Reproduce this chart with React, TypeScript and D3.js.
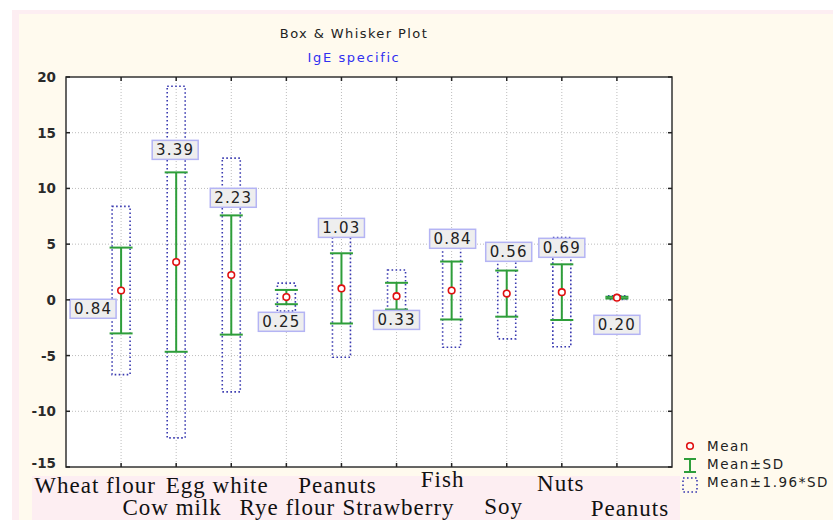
import React from "react";
import * as d3 from "d3";

const categories = ["Wheat flour", "Cow milk", "Egg white", "Rye flour", "Peanuts", "Strawberry", "Fish", "Soy", "Nuts", "Peanuts"];
const means = [0.84, 3.39, 2.23, 0.25, 1.03, 0.33, 0.84, 0.56, 0.69, 0.2];
const sds = [3.85, 8.05, 5.35, 0.64, 3.15, 1.2, 2.6, 2.07, 2.5, 0.08];
const meanLabels = ["0.84", "3.39", "2.23", "0.25", "1.03", "0.33", "0.84", "0.56", "0.69", "0.20"];
const labelValues = [-0.8, 13.46, 9.16, -1.97, 6.46, -1.8, 5.48, 4.31, 4.67, -2.24];
const yTicks = [20, 15, 10, 5, 0, -5, -10, -15];

// layout tweaks (pixels)
const labelDx = [-28, -1, 2, -5, 0, 0, 1, 2, 0, 0];
const catDx = [-26, -4, -14, 1, -4, 2, -9, -3, -1, 13];
const catY = [493, 515, 493, 515, 493, 515, 487, 514, 491, 516];

const W = 833, H = 520;
const X0 = 66, X1 = 672, Y0 = 77, Y1 = 467;

export default function App() {
  const x = d3.scalePoint<number>().domain(d3.range(categories.length)).range([X0, X1]).padding(1);
  const y = d3.scaleLinear().domain([-15, 20]).range([Y1, Y0]);
  const green = "#2e9e3a";
  const navy = "#3a3ab0";
  const font = "'DejaVu Sans', Verdana, sans-serif";
  return (
    <svg width={W} height={H} style={{ position: "absolute", left: 0, top: 0 }}>
      <rect x={0} y={0} width={W} height={H} fill="#ffffff" />
      <rect x={12} y={10} width={W - 12} height={H - 10} fill="#fdeef2" />
      <rect x={19} y={14} width={W - 19} height={H - 14} fill="#fffaee" />
      <rect x={32} y={476} width={648} height={44} fill="#fdeef2" />
      {/* title */}
      <text x={354} y={38} textAnchor="middle" fontFamily={font} fontSize={13} fill="#222" letterSpacing={1.4}>Box &amp; Whisker Plot</text>
      <text x={354} y={62} textAnchor="middle" fontFamily={font} fontSize={13} fill="#3030f0" letterSpacing={1.6}>IgE specific</text>
      {/* plot area */}
      <rect x={X0} y={Y0} width={X1 - X0} height={Y1 - Y0} fill="#ffffff" />
      {yTicks.filter(t => t > -15 && t < 20).map(t => (
        <line key={"gy" + t} x1={X0} x2={X1} y1={y(t)} y2={y(t)} stroke="#bdbdbd" strokeWidth={1} strokeDasharray="1,2" />
      ))}
      {categories.map((c, i) => (
        <line key={"gx" + i} x1={x(i)} x2={x(i)} y1={Y0} y2={Y1} stroke="#bdbdbd" strokeWidth={1} strokeDasharray="1,2" />
      ))}
      {/* boxes */}
      {categories.map((c, i) => {
        const cx = x(i)!;
        const m = means[i], s = sds[i];
        const bw = 9, cw = 11.5;
        return (
          <g key={"b" + i}>
            <rect x={cx - bw} y={y(m + 1.96 * s)} width={2 * bw} height={y(m - 1.96 * s) - y(m + 1.96 * s)} fill="none" stroke={navy} strokeWidth={1.6} strokeDasharray="1.6,2.4" />
            <line x1={cx} x2={cx} y1={y(m + s)} y2={y(m - s)} stroke={green} strokeWidth={2} />
            <line x1={cx - cw} x2={cx + cw} y1={y(m + s)} y2={y(m + s)} stroke={green} strokeWidth={2} />
            <line x1={cx - cw} x2={cx + cw} y1={y(m - s)} y2={y(m - s)} stroke={green} strokeWidth={2} />
            <circle cx={cx} cy={y(m)} r={3.3} fill="#ffffff" stroke="#e01010" strokeWidth={1.6} />
          </g>
        );
      })}
      {/* value labels */}
      {categories.map((c, i) => {
        const cx = x(i)! + labelDx[i];
        const cy = y(labelValues[i]);
        return (
          <g key={"l" + i}>
            <rect x={cx - 23} y={cy - 9.5} width={46} height={19} fill="#eeeeee" stroke="#b4b4f4" strokeWidth={1.5} />
            <text x={cx} y={cy + 5.5} textAnchor="middle" fontFamily={font} fontSize={15} fill="#222" letterSpacing={1.2}>{meanLabels[i]}</text>
          </g>
        );
      })}
      {/* frame */}
      <rect x={X0} y={Y0} width={X1 - X0} height={Y1 - Y0} fill="none" stroke="#333" strokeWidth={1.5} />
      {yTicks.map(t => (
        <g key={"ty" + t}>
          <line x1={X0} x2={X0 + 4} y1={y(t)} y2={y(t)} stroke="#222" strokeWidth={1.5} />
          <line x1={X1 - 4} x2={X1} y1={y(t)} y2={y(t)} stroke="#222" strokeWidth={1.5} />
          <text x={56} y={y(t) + (t === -15 ? 1 : 5)} textAnchor="end" fontFamily={font} fontSize={13.5} fontWeight="bold" fill="#2a2a2a">{t}</text>
        </g>
      ))}
      {categories.map((c, i) => (
        <g key={"tx" + i}>
          <line x1={x(i)} x2={x(i)} y1={Y1} y2={Y1 - 4} stroke="#222" strokeWidth={1.5} />
          <line x1={x(i)} x2={x(i)} y1={Y0} y2={Y0 + 4} stroke="#222" strokeWidth={1.5} />
          <text x={x(i)! + catDx[i]} y={catY[i]} textAnchor="middle" fontFamily="'Liberation Serif', 'Times New Roman', serif" fontSize={23} fill="#111" letterSpacing={1}>{c}</text>
        </g>
      ))}
      {/* legend */}
      <circle cx={690} cy={446} r={3.3} fill="#ffffff" stroke="#e01010" strokeWidth={1.6} />
      <text x={707} y={451} fontFamily={font} fontSize={13.5} fill="#222" letterSpacing={1.5}>Mean</text>
      <line x1={690} x2={690} y1={459} y2={472} stroke={green} strokeWidth={2} />
      <line x1={684} x2={696} y1={459} y2={459} stroke={green} strokeWidth={2} />
      <line x1={684} x2={696} y1={472} y2={472} stroke={green} strokeWidth={2} />
      <text x={707} y={469} fontFamily={font} fontSize={13.5} fill="#222" letterSpacing={1.5}>Mean±SD</text>
      <rect x={683} y={478} width={14} height={14} fill="none" stroke={navy} strokeWidth={1.6} strokeDasharray="1.6,2.4" />
      <text x={707} y={487} fontFamily={font} fontSize={13.5} fill="#222" letterSpacing={1.5}>Mean±1.96*SD</text>
    </svg>
  );
}
